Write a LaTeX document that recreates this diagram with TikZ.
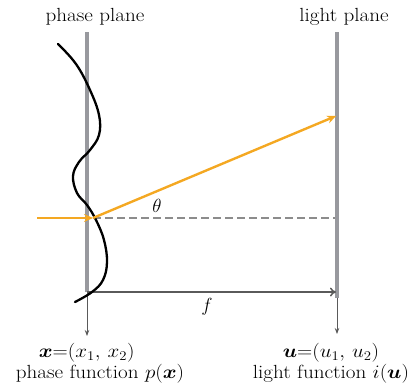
\RequirePackage{fix-cm}
\documentclass[tikz,border=0pt]{standalone}
\usepackage{graphicx}
\usepackage{bm}
\usetikzlibrary{arrows.meta}
\definecolor{planegray}{RGB}{152,153,158}
\definecolor{rayorange}{RGB}{244,168,34}
\definecolor{axisgray}{RGB}{90,90,90}
\definecolor{dashgray}{RGB}{140,140,140}
\newcommand{\widetxt}[1]{\scalebox{1.11}[1]{#1}}
\begin{document}
\begin{tikzpicture}[x=1pt,y=-1pt,
  plane/.style={draw=planegray,line width=4pt},
  thinarrow/.style={draw=axisgray,line width=0.8pt,-{Stealth[length=6pt,width=4.5pt]}},
  ray/.style={draw=rayorange,line width=2.4pt,-{Stealth[length=9pt,width=8pt]}},
  distarrow/.style={draw=axisgray,line width=1.5pt,-{To[length=6pt,width=9pt]}},
  guide/.style={draw=dashgray,line width=1.6pt,dash pattern=on 8pt off 4pt},
  lbl/.style={inner sep=0pt,font=\fontsize{19}{20.5}\selectfont},
  twoline/.style={lbl,align=center},
  wave/.style={draw=black,line width=2.3pt,line cap=round}]
\useasboundingbox (0,0) rectangle (413,386);
% planes
\coordinate (pt) at (87,32);
\coordinate (pb) at (87,292);
\coordinate (pa) at (87,336);
\coordinate (lt) at (337,32);
\coordinate (lb) at (337,298);
\coordinate (la) at (337,334);
\draw[plane] (pt) -- (pb);
\draw[plane] (lt) -- (lb);
\draw[thinarrow] (pb) -- (pa);
\draw[thinarrow] (lb) -- (la);
% distance f
\coordinate (f1) at (87,292);
\coordinate (f2) at (336,292);
\draw[distarrow] (f1) -- (f2);
\node[lbl] (flab) at (207,307) {$f$};
% dashed guide
\coordinate (hit) at (93,218);
\coordinate (d2) at (335,218);
\draw[guide] (hit) -- (d2);
% wave (phase function)
\draw[wave] plot[smooth,tension=0.65] coordinates {(58,44) (76,64) (90,90) (99,115) (99,135) (90,150) (79,162) (73,176) (77,193) (87,205) (96,220) (104,240) (107,262) (103,280) (92,292) (75,302)};
% rays
\coordinate (in) at (37,218);
\coordinate (out) at (336,116);
\draw[ray] (in) -- (hit);
\draw[ray] (hit) -- (out);
\node[lbl] (theta) at (157,206) {$\theta$};
% titles
\node[lbl] (ptitle) at (95,17) {\widetxt{phase plane}};
\node[lbl] (ltitle) at (344,17) {\widetxt{light plane}};
% bottom labels
\node[twoline,anchor=base] (plabel) at (100,378) {\widetxt{\hspace{-24pt}$\bm{x}{=}(x_1,\,x_2)$}\\\widetxt{phase function $p(\bm{x})$}};
\node[twoline,anchor=base] (llabel) at (331,378) {\widetxt{$\bm{u}{=}(u_1,\,u_2)$}\\\widetxt{light function $i(\bm{u})$}};
\end{tikzpicture}
\end{document}
